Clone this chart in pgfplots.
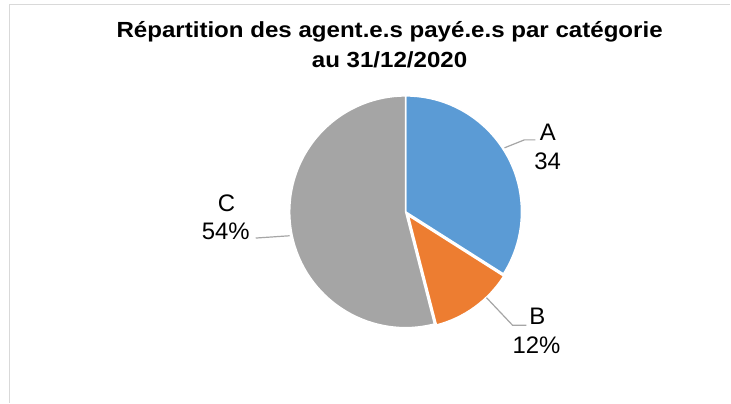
\documentclass[border=0pt]{standalone}
\usepackage{pgfplots}
\pgfplotsset{compat=1.18}
\usepackage{fontspec}
\setmainfont{Liberation Sans}

\definecolor{sliceA}{HTML}{5B9BD5}
\definecolor{sliceB}{HTML}{ED7D31}
\definecolor{sliceC}{HTML}{A5A5A5}
\definecolor{leader}{HTML}{A6A6A6}
\definecolor{framegray}{HTML}{D9D9D9}

% share of each category (%), clockwise from 12 o'clock
\def\valA{34}
\def\valB{12}
\def\valC{54}

\begin{document}
\begin{tikzpicture}
\begin{axis}[
    width=731bp, height=403bp,
    scale only axis,
    xmin=0, xmax=731,
    ymin=0, ymax=403,
    hide axis,
    clip=false,
]
% background and chart frame
\fill[white] (axis cs:0,0) rectangle (axis cs:731,403);
\draw[framegray, line width=1.5bp] (axis cs:9.5,0) -- (axis cs:9.5,398.5) -- (axis cs:731,398.5);

% title
\node[anchor=base, font=\bfseries\fontsize{22}{26}\selectfont] at (axis cs:390,365)
    {\scalebox{1.1}[1]{Répartition des agent.e.s payé.e.s par catégorie}};
\node[anchor=base, font=\bfseries\fontsize{22}{26}\selectfont] at (axis cs:390,335)
    {\scalebox{1.1}[1]{au 31/12/2020}};

% slices
\pgfmathsetmacro{\aA}{90}
\pgfmathsetmacro{\aB}{90-3.6*\valA}
\pgfmathsetmacro{\aC}{\aB-3.6*\valB}
\pgfmathsetmacro{\aEnd}{\aC-3.6*\valC}
\pgfmathsetmacro{\midB}{(\aB+\aC)/2}

\filldraw[fill=sliceA, draw=white, line width=1.5bp]
    (axis cs:406,191) -- ++(\aA:116bp) arc[start angle=\aA, end angle=\aB, radius=116bp] -- cycle;
\filldraw[fill=sliceC, draw=white, line width=1.5bp]
    (axis cs:406,191) -- ++(\aC:116bp) arc[start angle=\aC, end angle=\aEnd, radius=116bp] -- cycle;
\filldraw[fill=sliceB, draw=white, line width=2bp, shift={(\midB:4bp)}]
    (axis cs:406,191) -- ++(\aB:114bp) arc[start angle=\aB, end angle=\aC, radius=114bp] -- cycle;

% leader lines
\draw[leader, line width=1.2bp] (axis cs:505,255) -- (axis cs:525,263) -- (axis cs:536,263);
\draw[leader, line width=1.2bp] (axis cs:487,105) -- (axis cs:513,77.5) -- (axis cs:527,77.5);
\draw[leader, line width=1.2bp] (axis cs:256,164.7) -- (axis cs:290,167);

% data labels
\tikzset{lbl/.style={anchor=base, font=\fontsize{24}{28}\selectfont, inner sep=0pt}}
\node[lbl] at (axis cs:548.5,262) {A};
\node[lbl] at (axis cs:548.3,233.7) {\valA};
\node[lbl] at (axis cs:538,78) {B};
\node[lbl] at (axis cs:537,49) {\valB\%};
\node[lbl] at (axis cs:226.7,191.3) {C};
\node[lbl] at (axis cs:226,163.7) {\valC\%};
\end{axis}
\end{tikzpicture}
\end{document}
